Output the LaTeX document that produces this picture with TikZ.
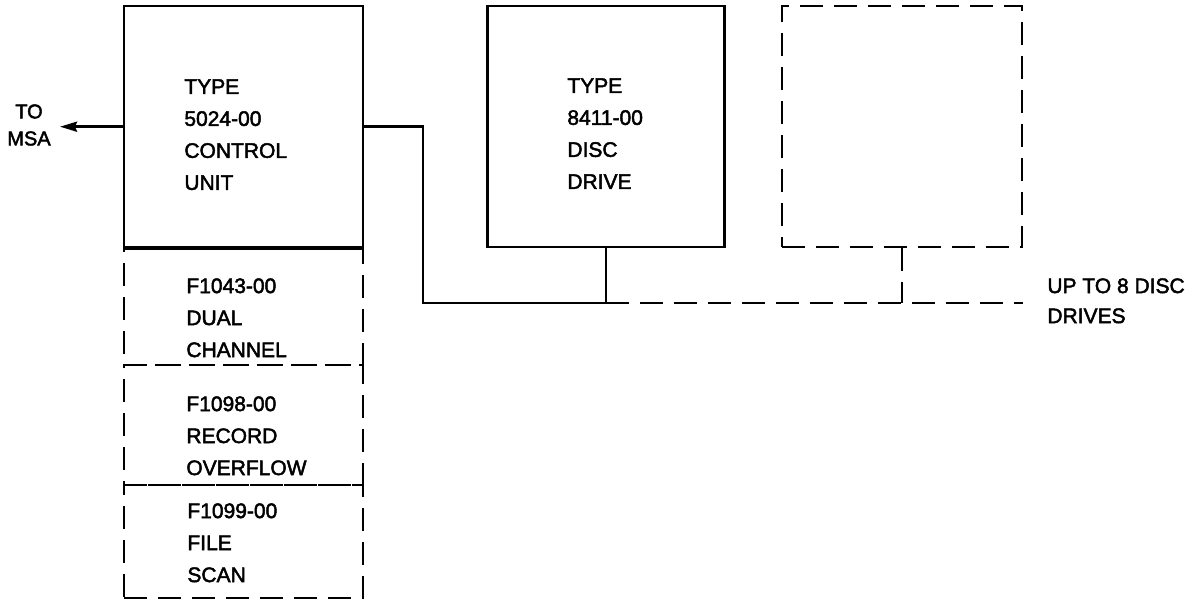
\documentclass[tikz,border=0pt]{standalone}
\usepackage{fontspec}
\setmainfont{Liberation Sans}
\newfontfamily\lblfont{Liberation Sans}[BoldFont=Liberation Sans,BoldFeatures={FakeBold=2.2}]
\usetikzlibrary{arrows.meta}
\begin{document}
\begin{tikzpicture}[x=1pt,y=-1pt,
  line width=2.8pt,
  solidbox/.style={draw,line width=2.8pt,inner sep=0pt},
  optbox/.style={draw,line width=2.8pt,inner sep=0pt,dash pattern=on 23pt off 11pt},
  label/.style={anchor=north west,inner sep=0pt,align=left,font=\lblfont\bfseries\fontsize{21}{32}\selectfont},
  wire/.style={line width=2.8pt},
  optwire/.style={line width=2.8pt,dash pattern=on 23pt off 11pt}]
\useasboundingbox (0,0) rectangle (1190,608);
% control unit
\node[solidbox,minimum width=239pt,minimum height=241pt] (cu) at (243.5,126.5) {};
\node[optbox,minimum width=239pt,minimum height=118pt] (opt1) at (243.5,306) {};
\node[optbox,minimum width=239pt,minimum height=120pt] (opt2) at (243.5,425) {};
\node[optbox,minimum width=239pt,minimum height=113pt] (opt3) at (243.5,541.5) {};
\draw[wire] (cu.south west) -- (cu.south east);
\node[label] (cut) at (183,78) {TYPE\\5024-00\\CONTROL\\UNIT};
\node[label] (o1t) at (185,277) {F1043-00\\DUAL\\CHANNEL};
\node[label] (o2t) at (185,395) {F1098-00\\RECORD\\OVERFLOW};
\node[label] (o3t) at (186,502) {F1099-00\\FILE\\SCAN};
% disc drive
\node[solidbox,minimum width=237pt,minimum height=241pt] (dd) at (606,126.5) {};
\node[label] (ddt) at (566,77) {TYPE\\8411-00\\DISC\\DRIVE};
% optional drive
\node[optbox,minimum width=240pt,minimum height=241pt] (od) at (902,126.5) {};
% to MSA
\coordinate (msa) at (60,126.7);
\draw[wire,-{Stealth[length=17pt,width=10pt,inset=2pt]}] (cu.west |- msa) -- (msa);
\node[anchor=north,inner sep=0pt,align=center,font=\lblfont\bfseries\fontsize{20}{27}\selectfont] (msat) at (29,103) {TO\\MSA};
% bus
\coordinate (j1) at (423,126.5);
\coordinate (j2) at (423,303);
\coordinate (j3) at (dd.south |- j2);
\coordinate (j4) at (od.south |- j2);
\coordinate (busend) at (1023,303);
\draw[wire] (cu.east |- j1) -- (j1) -- (j2) -- (j3) -- (dd.south);
\draw[optwire] (j3) -- (busend);
\draw[optwire] (od.south) -- (j4);
\node[anchor=north west,inner sep=0pt,align=left,font=\lblfont\bfseries\fontsize{21}{30}\selectfont] (bust) at (1046,277) {UP TO 8 DISC\\DRIVES};
\end{tikzpicture}
\end{document}
